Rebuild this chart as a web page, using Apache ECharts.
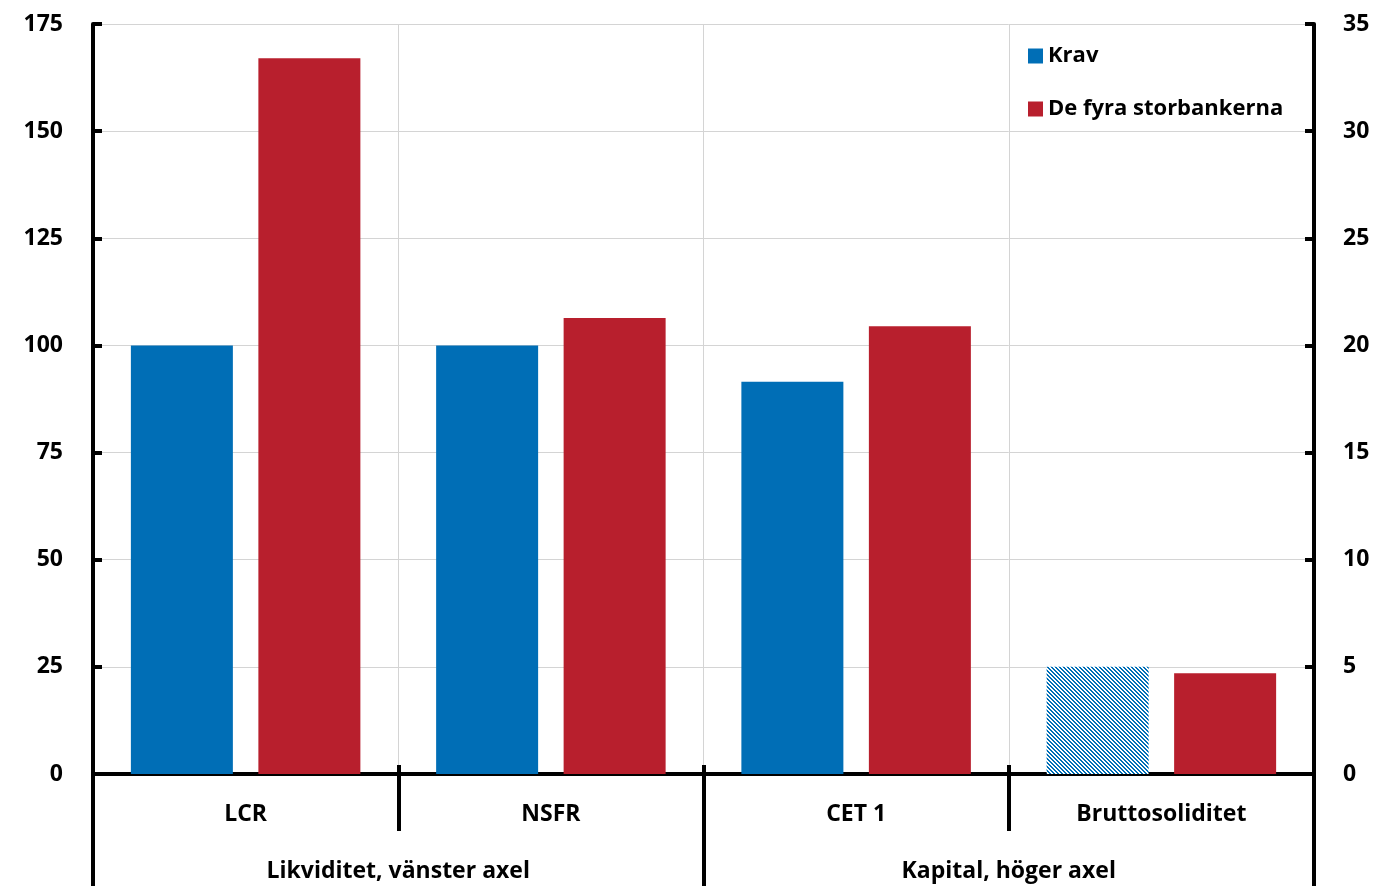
<!DOCTYPE html>
<html>
<head>
<meta charset="utf-8">
<script src="https://cdn.jsdelivr.net/npm/echarts@6/dist/echarts.min.js"></script>
<style>
  html, body { margin: 0; padding: 0; background: #fff; }
  #chart { width: 1382px; height: 886px; }
</style>
</head>
<body>
<div id="chart"></div>
<script>
// Categories and groups along the bottom
const categories = ['LCR', 'NSFR', 'CET 1', 'Bruttosoliditet'];
const groups = ['Likviditet, vänster axel', 'Kapital, höger axel'];

// Liquidity ratios (left axis, per cent)
const kravLeft = [100, 100, null, null];
const bankerLeft = [167, 106.4, null, null];

// Capital ratios (right axis, per cent)
const kravRight = [null, null, 18.3, 5];
const bankerRight = [null, null, 20.9, 4.7];

// Axis ranges
const leftAxis = { min: 0, max: 175, interval: 25 };
const rightAxis = { min: 0, max: 35, interval: 5 };

const BLUE = '#006EB6';
const RED = '#B81F2D';
const FONT = '"Open Sans"';

// Diagonal stripe fill for the leverage-ratio requirement bar
function stripePattern() {
  const c = document.createElement('canvas');
  c.width = 8; c.height = 8;
  const ctx = c.getContext('2d');
  ctx.fillStyle = '#ffffff';
  ctx.fillRect(0, 0, 8, 8);
  ctx.fillStyle = BLUE;
  for (let x = 0; x < 8; x++) {
    for (let y = 0; y < 8; y++) {
      if (((x - y + 16) % 4) < 2) ctx.fillRect(x, y, 1, 1);
    }
  }
  return { image: c, repeat: 'repeat' };
}

const chart = echarts.init(document.getElementById('chart'), null, { renderer: 'canvas' });

const labelStyle = { color: '#000', fontFamily: FONT, fontWeight: 'bold', fontSize: 23 };
const blackLine = { color: '#000', width: 4 };
const gridLine = { lineStyle: { color: '#D4D4D4', width: 1 } };

const barCommon = { type: 'bar', barWidth: 102, barGap: '25%', animation: false };

chart.setOption({
  animation: false,
  grid: { left: 93, right: 68, top: 24, bottom: 112, containLabel: false },
  legend: {
    orient: 'vertical',
    left: 1023,
    top: 40,
    itemWidth: 15,
    itemHeight: 15,
    itemGap: 31,
    icon: 'rect',
    data: ['Krav', 'De fyra storbankerna'],
    textStyle: Object.assign({}, labelStyle, { fontSize: 22 })
  },
  xAxis: [
    {
      type: 'category',
      data: categories,
      position: 'bottom',
      axisLine: { show: true, lineStyle: blackLine },
      axisTick: { show: true, interval: 0, length: 57, lineStyle: blackLine },
      axisLabel: Object.assign({ margin: 29, interval: 0 }, labelStyle),
      splitLine: Object.assign({ show: true, interval: 0 }, gridLine)
    },
    {
      type: 'category',
      data: categories,
      position: 'bottom',
      axisLine: { show: false },
      axisTick: { show: true, inside: true, interval: 0, length: 9, lineStyle: blackLine },
      axisLabel: { show: false },
      splitLine: { show: false }
    },
    {
      type: 'category',
      data: groups,
      position: 'bottom',
      axisLine: { show: false },
      axisTick: { show: true, interval: 0, length: 113, lineStyle: blackLine },
      axisLabel: Object.assign({ margin: 86, interval: 0 }, labelStyle),
      splitLine: { show: false }
    }
  ],
  yAxis: [
    {
      type: 'value',
      position: 'left',
      min: leftAxis.min, max: leftAxis.max, interval: leftAxis.interval,
      axisLine: { show: true, lineStyle: blackLine },
      axisTick: { show: true, inside: true, length: 9, lineStyle: blackLine },
      axisLabel: Object.assign({ margin: 30 }, labelStyle),
      splitLine: Object.assign({ show: true }, gridLine)
    },
    {
      type: 'value',
      position: 'right',
      min: rightAxis.min, max: rightAxis.max, interval: rightAxis.interval,
      axisLine: { show: true, lineStyle: blackLine },
      axisTick: { show: true, inside: true, length: 9, lineStyle: blackLine },
      axisLabel: Object.assign({ margin: 29 }, labelStyle),
      splitLine: { show: false }
    }
  ],
  series: [
    Object.assign({}, barCommon, {
      name: 'Krav', xAxisIndex: 0, yAxisIndex: 0,
      itemStyle: { color: BLUE }, data: kravLeft
    }),
    Object.assign({}, barCommon, {
      name: 'De fyra storbankerna', xAxisIndex: 0, yAxisIndex: 0,
      itemStyle: { color: RED }, data: bankerLeft
    }),
    Object.assign({}, barCommon, {
      name: 'Krav', xAxisIndex: 1, yAxisIndex: 1,
      itemStyle: { color: BLUE },
      data: kravRight.map((v, i) => categories[i] === 'Bruttosoliditet'
        ? { value: v, itemStyle: { color: stripePattern() } } : v)
    }),
    Object.assign({}, barCommon, {
      name: 'De fyra storbankerna', xAxisIndex: 1, yAxisIndex: 1,
      itemStyle: { color: RED }, data: bankerRight
    })
  ]
});
</script>
</body>
</html>
